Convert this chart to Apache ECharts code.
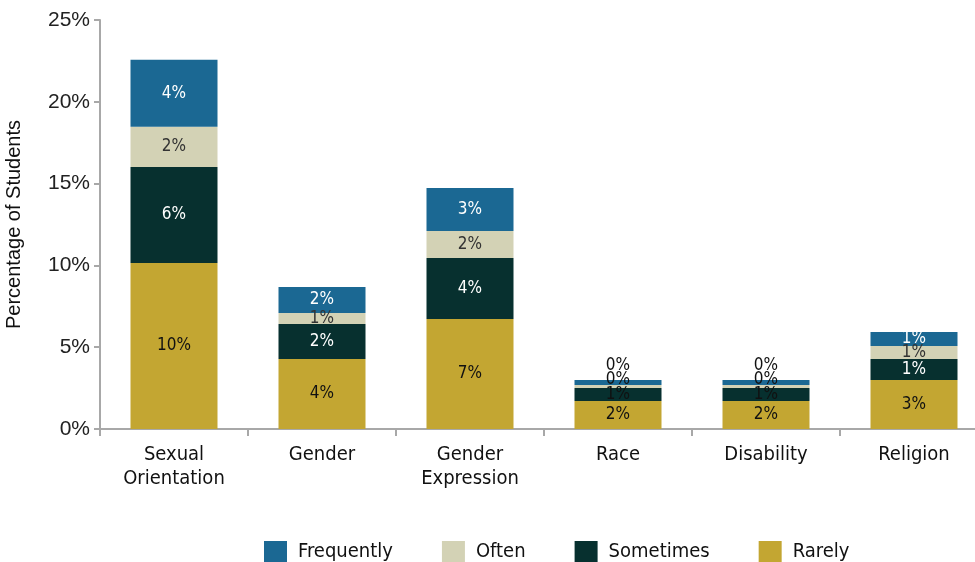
<!DOCTYPE html>
<html><head><meta charset="utf-8">
<script src="https://cdn.jsdelivr.net/npm/echarts@6/dist/echarts.min.js"></script>
<style>html,body{margin:0;padding:0;background:#fff}#c{width:975px;height:562px}</style>
</head><body><div id="c"></div>
<script>
const categories = ['Sexual\nOrientation', 'Gender', 'Gender\nExpression', 'Race', 'Disability', 'Religion'];
const rarely     = [10.15, 4.28, 6.72, 1.71, 1.71, 3.00];
const sometimes  = [5.87, 2.14, 3.73, 0.80, 0.80, 1.28];
const often      = [2.45, 0.67, 1.65, 0.18, 0.18, 0.79];
const frequently = [4.10, 1.59, 2.63, 0.31, 0.31, 0.86];
const yTicks = [0, 5, 10, 15, 20, 25];

const NARROW = '"Liberation Sans Narrow", "DejaVu Sans Condensed", "Arial Narrow", sans-serif';
const REG = '"Liberation Sans", Arial, sans-serif';

// per-item label style overrides (styling only)
const labelOverrides = {
  Frequently: {3: {offset: [0, -17], color: '#111'}, 4: {offset: [0, -17], color: '#111'}},
  Often: {3: {offset: [0, -7], color: '#111'}, 4: {offset: [0, -7], color: '#111'}},
  Sometimes: {3: {color: '#111'}, 4: {color: '#111'}}
};

function mk(name, vals, color, labelColor) {
  const ov = labelOverrides[name] || {};
  return {
    name, type: 'bar', stack: 'all', barWidth: 87,
    itemStyle: {color},
    label: {
      show: true, position: 'inside', color: labelColor,
      fontFamily: NARROW, fontSize: 17,
      formatter: p => Math.round(p.value) + '%'
    },
    data: vals.map((v, i) => ov[i] ? {value: v, label: ov[i]} : v)
  };
}

const chart = echarts.init(document.getElementById('c'), null, {renderer: 'canvas'});
chart.setOption({
  animation: false,
  grid: {left: 100, top: 20, width: 888, height: 409, containLabel: false, outerBoundsMode: 'none'},
  xAxis: {
    type: 'category', data: categories,
    axisLine: {lineStyle: {color: '#a8a8a8', width: 2}},
    axisTick: {show: true, length: 7, lineStyle: {color: '#a8a8a8', width: 2}},
    axisLabel: {color: '#111', fontFamily: NARROW, fontSize: 20, lineHeight: 24, margin: 14}
  },
  yAxis: {
    type: 'value', min: 0, max: 25, interval: 5,
    name: 'Percentage of Students', nameLocation: 'middle', nameGap: 76,
    nameTextStyle: {color: '#111', fontFamily: REG, fontSize: 20},
    splitLine: {show: false},
    axisLine: {show: true, lineStyle: {color: '#a8a8a8', width: 2}},
    axisTick: {show: true, length: 6, lineStyle: {color: '#a8a8a8', width: 2}},
    axisLabel: {color: '#222', fontFamily: REG, fontSize: 21, margin: 10,
      formatter: v => yTicks.includes(v) ? v + '%' : ''}
  },
  legend: {
    data: ['Frequently', 'Often', 'Sometimes', 'Rarely'],
    left: 259, top: 536, itemWidth: 23, itemHeight: 22, itemGap: 49,
    icon: 'rect',
    textStyle: {color: '#111', fontFamily: NARROW, fontSize: 20, padding: [0, 0, 0, 6]}
  },
  series: [
    mk('Rarely', rarely, '#c3a632', '#111'),
    mk('Sometimes', sometimes, '#07302f', '#fff'),
    mk('Often', often, '#d3d2b5', '#333'),
    mk('Frequently', frequently, '#1b6893', '#fff')
  ]
});
</script></body></html>
